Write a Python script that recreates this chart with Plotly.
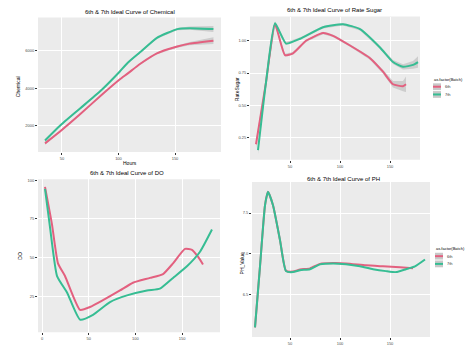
import plotly.graph_objects as go

W, H = 466, 346
PINK = "#E3607F"
GREEN = "#36BD93"
RIBBON = "rgba(150,150,150,0.35)"
PANEL_BG = "#EBEBEB"
FONT = "Liberation Sans"
BATCHES = ["6th", "7th"]

# ---- Chemical ----
chem_hours = [35, 48, 66, 84, 101, 108, 119, 134, 152, 163, 184]
chem_6th = [1077, 1692, 2615, 3590, 4462, 4769, 5282, 5846, 6205, 6359, 6513]
chem_7th = [1231, 2000, 2923, 3846, 4872, 5333, 5897, 6667, 7128, 7179, 7128]
chem_se_6th = [80, 50, 40, 40, 40, 40, 40, 45, 60, 90, 180]
chem_se_7th = [80, 50, 40, 40, 40, 40, 40, 45, 60, 90, 160]

# ---- Rate Sugar ----
sugar_hours_6th = [16, 26, 35, 45, 53, 66, 83, 93, 110, 130, 143, 153, 163, 166]
sugar_6th = [0.198, 0.678, 1.128, 0.888, 0.903, 1.000, 1.060, 1.038, 0.963,
             0.865, 0.760, 0.663, 0.648, 0.663]
sugar_se_6th = [0.03, 0.02, 0.015, 0.012, 0.01, 0.01, 0.01, 0.01, 0.01,
                0.012, 0.015, 0.025, 0.04, 0.06]
sugar_hours_7th = [18, 26, 35, 46, 60, 83, 103, 120, 140, 153, 163, 173, 178]
sugar_7th = [0.152, 0.678, 1.135, 0.978, 1.015, 1.105, 1.128, 1.090, 0.948,
             0.835, 0.798, 0.813, 0.835]
sugar_se_7th = [0.03, 0.02, 0.015, 0.012, 0.01, 0.01, 0.01, 0.01, 0.012,
                0.015, 0.02, 0.03, 0.045]

# ---- DO ----
do_hours_6th = [3.2, 10.7, 17.1, 24.6, 32.1, 40.7, 51.4, 65.3, 83.5, 97.4,
                115.6, 129.6, 140.3, 153.1, 160.6, 167.0, 172.4]
do_6th = [95.6, 71.3, 46.3, 38.1, 26.9, 16.3, 18.1, 22.5, 28.8, 33.8,
          36.9, 39.4, 46.3, 55.6, 55.0, 50.6, 45.6]
do_hours_7th = [3.2, 8.6, 16.1, 26.8, 40.7, 54.6, 72.8, 91.0, 112.4, 126.3,
                140.3, 155.2, 169.2, 182.0]
do_7th = [94.4, 69.4, 38.1, 27.5, 10.0, 13.1, 21.3, 25.6, 28.8, 30.0,
          36.9, 44.4, 53.8, 68.1]

# ---- PH ----
ph_hours_6th = [15, 20, 25, 28, 33, 40, 46, 53, 60, 70, 80, 93, 106, 126,
                143, 160, 173]
ph_6th = [6.095, 6.845, 7.595, 7.762, 7.595, 7.167, 6.790, 6.780, 6.805,
          6.820, 6.875, 6.885, 6.881, 6.857, 6.845, 6.833, 6.821]
ph_hours_7th = [15, 20, 25, 28, 33, 40, 46, 53, 60, 70, 80, 93, 106, 120,
                133, 146, 156, 166, 175, 185]
ph_7th = [6.095, 6.845, 7.595, 7.762, 7.595, 7.167, 6.786, 6.774, 6.798,
          6.810, 6.869, 6.881, 6.870, 6.845, 6.810, 6.786, 6.774, 6.810,
          6.845, 6.929]

fig = go.Figure()


def add_curve(xs, ys, color, xa, ya, se=None):
    if se is not None:
        upper = [y + s for y, s in zip(ys, se)]
        lower = [y - s for y, s in zip(ys, se)]
        fig.add_trace(go.Scatter(
            x=list(xs) + list(xs)[::-1], y=upper + lower[::-1],
            fill="toself", fillcolor=RIBBON, line=dict(width=0),
            mode="lines", hoverinfo="skip", showlegend=False,
            xaxis=xa, yaxis=ya))
    fig.add_trace(go.Scatter(
        x=xs, y=ys, mode="lines",
        line=dict(color=color, width=2, shape="spline", smoothing=0.5),
        showlegend=False, xaxis=xa, yaxis=ya))


add_curve(chem_hours, chem_6th, PINK, "x", "y", chem_se_6th)
add_curve(chem_hours, chem_7th, GREEN, "x", "y", chem_se_7th)
add_curve(sugar_hours_6th, sugar_6th, PINK, "x2", "y2", sugar_se_6th)
add_curve(sugar_hours_7th, sugar_7th, GREEN, "x2", "y2", sugar_se_7th)
add_curve(do_hours_6th, do_6th, PINK, "x3", "y3")
add_curve(do_hours_7th, do_7th, GREEN, "x3", "y3")
add_curve(ph_hours_6th, ph_6th, PINK, "x4", "y4")
add_curve(ph_hours_7th, ph_7th, GREEN, "x4", "y4")


def px_x(p):
    return p / W


def px_y(p):
    return 1 - p / H


def axis(domain, rng, ticks, labels=None, anchor=None):
    return dict(domain=domain, range=rng, tickvals=ticks,
                ticktext=labels if labels else [str(t) for t in ticks],
                showgrid=True, gridcolor="white", gridwidth=0.6,
                zeroline=False, showline=False, ticks="outside", ticklen=2,
                tickcolor="#333333",
                tickfont=dict(size=4, color="#4D4D4D", family=FONT),
                anchor=anchor)


layout_axes = dict(
    xaxis=axis([px_x(38), px_x(221)], [28.8, 190.7], [50, 100, 150], anchor="y"),
    yaxis=axis([px_y(155), px_y(16)], [615, 7743], [2000, 4000, 6000], anchor="x"),
    xaxis2=axis([px_x(250), px_x(420)], [10, 180], [50, 100, 150], anchor="y2"),
    yaxis2=axis([px_y(163), px_y(15)], [0.0775, 1.1875], [0.25, 0.5, 0.75, 1.0],
                ["0.25", "0.50", "0.75", "1.00"], anchor="x2"),
    xaxis3=axis([px_x(38), px_x(220)], [-4.3, 190.6], [0, 50, 100, 150], anchor="y3"),
    yaxis3=axis([px_y(341), px_y(183)], [1.9, 100.6], [25, 50, 75, 100], anchor="x3"),
    xaxis4=axis([px_x(252), px_x(430)], [12, 190], [50, 100, 150], anchor="y4"),
    yaxis4=axis([0.0, px_y(186)], [5.976, 7.881], [6.5, 7.0, 7.5],
                ["6.5", "7.0", "7.5"], anchor="x4"),
)

shapes = []
# grey panel backgrounds
for x0, x1, y0, y1 in [(38, 221, 16, 155), (250, 420, 15, 163),
                       (38, 220, 183, 341), (252, 430, 186, 346)]:
    shapes.append(dict(type="rect", xref="paper", yref="paper",
                       x0=px_x(x0), x1=px_x(x1), y0=px_y(y1), y1=px_y(y0),
                       fillcolor=PANEL_BG, line=dict(width=0), layer="below"))

annotations = []


def text(x, y, s, size=5, angle=0, anchor="center", color="#000000"):
    annotations.append(dict(x=px_x(x), y=px_y(y), xref="paper", yref="paper",
                            text=s, showarrow=False, textangle=angle,
                            xanchor=anchor, yanchor="middle",
                            font=dict(size=size, color=color, family=FONT)))


# titles
text(130, 10, "6th & 7th Ideal Curve of Chemical", 6)
text(334, 8, "6th & 7th Ideal Curve of Rate Sugar", 6)
text(127, 177, "6th & 7th Ideal Curve of DO", 6)
text(343, 183, "6th & 7th Ideal Curve of PH", 6)
# axis titles
text(130, 166, "Hours", 5)
text(18, 88, "Chemical", 5, -90)
text(237, 90, "RateSugar", 5, -90)
text(20, 262, "DO", 5, -90)
text(242, 270, "PH_Value", 5, -90)


def legend(x, y):
    text(x, y, "as.factor(Batch)", 4, anchor="left")
    for i, (name, col) in enumerate(zip(BATCHES, [PINK, GREEN])):
        top = y + 4 + i * 8
        shapes.append(dict(type="rect", xref="paper", yref="paper",
                           x0=px_x(x + 1), x1=px_x(x + 9),
                           y0=px_y(top + 7), y1=px_y(top),
                           fillcolor="#C8C8C8", line=dict(width=0)))
        shapes.append(dict(type="line", xref="paper", yref="paper",
                           x0=px_x(x + 1), x1=px_x(x + 9),
                           y0=px_y(top + 3.5), y1=px_y(top + 3.5),
                           line=dict(color=col, width=2)))
        text(x + 11, top + 3.5, name, 4, anchor="left", color="#333333")


legend(432, 80)
legend(434, 255)

fig.update_layout(
    width=W, height=H, margin=dict(l=0, r=0, t=0, b=0),
    paper_bgcolor="white", plot_bgcolor="rgba(0,0,0,0)",
    showlegend=False, shapes=shapes, annotations=annotations,
    **layout_axes)

fig.write_html("out.html")
